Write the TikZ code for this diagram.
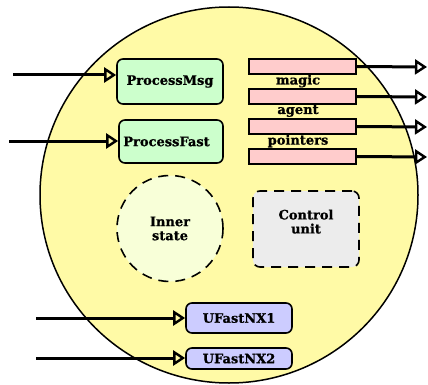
\documentclass[tikz,border=0pt]{standalone}
\usepackage{fontspec}
\setmainfont{DejaVu Serif}[BoldFeatures={FakeBold=0.8}]
\usetikzlibrary{arrows.meta}
\definecolor{ellfill}{HTML}{FFFAA6}
\definecolor{greenfill}{HTML}{CCFFCC}
\definecolor{pinkfill}{HTML}{FFCCCC}
\definecolor{statefill}{HTML}{F8FFD8}
\definecolor{ctrlfill}{HTML}{ECECEC}
\definecolor{lavfill}{HTML}{CCCCFF}
\begin{document}
\begin{tikzpicture}[x=1pt,y=-1pt,
  lbl/.style={font=\bfseries\fontsize{13}{14}\selectfont},
  box/.style={draw, line width=1.6pt, rounded corners=6pt, inner sep=0pt, lbl},
  bar/.style={draw, line width=1.6pt, fill=pinkfill, minimum width=107pt, minimum height=15pt, inner sep=0pt},
  conn/.style={line width=3pt, -{Triangle[open, length=12pt, width=15pt, line width=2.4pt]}},
  dashedshape/.style={draw, line width=1.6pt, dash pattern=on 10pt off 7pt, align=center, lbl, inner sep=0pt}]
\useasboundingbox (0,0) rectangle (428,385);
\path[draw, fill=ellfill, line width=1.5pt] (229,195) ellipse [x radius=189, y radius=188];

\node[box, fill=greenfill, minimum width=106pt, minimum height=45pt] (pm) at (170,81.5) {ProcessMsg};
\node[box, fill=greenfill, minimum width=104pt, minimum height=43pt] (pf) at (171,141.5) {\hspace*{-9pt}ProcessFast};

\node[bar] (b1) at (302.5,66.5) {};
\node[bar] (b2) at (302.5,96.5) {};
\node[bar] (b3) at (302.5,126.5) {};
\node[bar] (b4) at (302.5,156.5) {};
\node[lbl] (lmagic) at (298,81) {magic};
\node[lbl] (lagent) at (298,111) {agent};
\node[lbl] (lpointers) at (298,141) {pointers};

\node[dashedshape, circle, fill=statefill, minimum size=106pt] (inner) at (170,228.5) {Inner\\state};
\node[dashedshape, rounded corners=7pt, fill=ctrlfill, minimum width=106pt, minimum height=76pt] (ctrl) at (306,229) {Control\\unit\\[1pt]};

\node[box, fill=lavfill, minimum width=106pt, minimum height=30pt] (u1) at (239,318) {UFastNX1};
\node[box, fill=lavfill, minimum width=106pt, minimum height=21pt] (u2) at (239,358.5) {UFastNX2};

\coordinate (pm0) at (13,75);
\coordinate (pf0) at (9,141);
\coordinate (u10) at (36,318);
\coordinate (u20) at (36,358);
\draw[conn] (pm0) -- (pm0 -| pm.west);
\draw[conn] (pf0) -- (pf0 -| pf.west);
\draw[conn] (u10) -- (u10 -| u1.west);
\draw[conn] (u20) -- (u20 -| u2.west);

\coordinate (o1) at (427,67);
\coordinate (o2) at (427,97);
\coordinate (o3) at (427,127);
\coordinate (o4) at (427,157);
\draw[conn] (b1.east) -- (o1);
\draw[conn] (b2.east) -- (o2);
\draw[conn] (b3.east) -- (o3);
\draw[conn] (b4.east) -- (o4);
\end{tikzpicture}
\end{document}
